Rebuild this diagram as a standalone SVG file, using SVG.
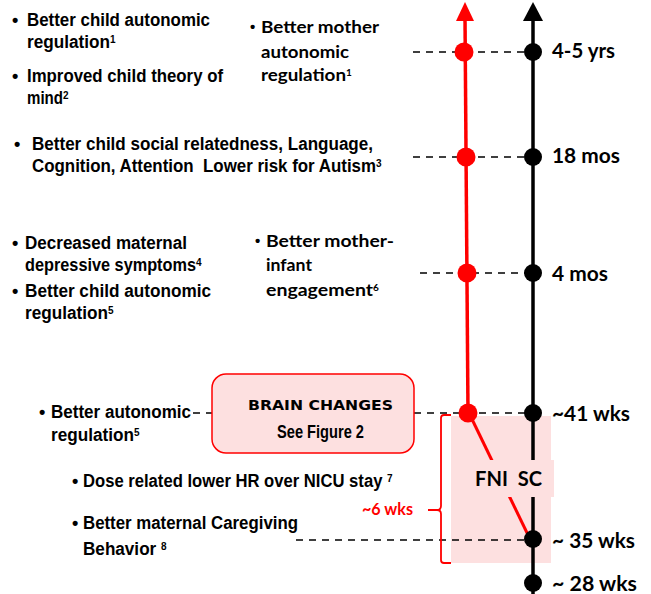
<svg xmlns="http://www.w3.org/2000/svg" width="651" height="594" viewBox="0 0 651 594">
<style>
.lt{font-family:"Liberation Sans Narrow","Liberation Sans",Arial,sans-serif;font-weight:bold;font-size:18px;fill:#000;white-space:pre}
.ct{font-family:Lato,"Open Sans",sans-serif;font-weight:bold;font-size:17px;fill:#000}
.bul{font-family:"Liberation Sans",Arial,sans-serif;font-weight:bold;font-size:15px;fill:#000}
.lab{font-family:Lato,"Open Sans",sans-serif;font-weight:bold;font-size:20px;fill:#000}
.sup{font-size:10px}
.dash{stroke:#000;stroke-width:1.5;stroke-dasharray:7 6;fill:none}
.pink{fill:#fde0e0}
.red{stroke:#ff0000;fill:none}
</style>
<rect class="pink" x="451" y="416" width="100" height="147"/>
<g id="connectors">
  <line class="dash" x1="413" y1="52" x2="533" y2="52"/>
  <line class="dash" x1="413" y1="157" x2="533" y2="157"/>
  <line class="dash" x1="420" y1="273" x2="533" y2="273"/>
  <line class="dash" x1="193" y1="413" x2="533" y2="413"/>
  <line class="dash" x1="296" y1="540" x2="533" y2="540"/>
  <line class="red" stroke-width="3.5" x1="465" y1="18" x2="468" y2="413"/>
  <polygon fill="#ff0000" points="465,2 456,21 474,21"/>
  <line stroke="#000" stroke-width="3.5" x1="533" y1="18" x2="533" y2="594"/>
  <polygon fill="#000" points="533,2 523,21 543,21"/>
  <line class="red" stroke-width="3" x1="469" y1="413" x2="530" y2="539"/>
  <path class="red" stroke-width="1.8" d="M451,415 L444,415 Q441,415 441,418 L441,506 Q441,510 437,510 L428,510 M437,510 Q441,510 441,514 L441,560 Q441,563 444,563 L451,563"/>
</g>
<g id="fni-sc">
  <rect class="pink" x="472" y="460" width="82" height="37"/>
  <text class="lab" x="475" y="486" font-size="19" textLength="67" lengthAdjust="spacingAndGlyphs" style="white-space:pre">FNI  SC</text>
</g>
<g id="dots">
  <circle cx="464" cy="52" r="9.5" fill="#ff0000"/>
  <circle cx="466" cy="157" r="9.5" fill="#ff0000"/>
  <circle cx="467" cy="273" r="9.5" fill="#ff0000"/>
  <circle cx="468" cy="413" r="9.5" fill="#ff0000"/>
  <circle cx="533" cy="52" r="9" fill="#000"/>
  <circle cx="533" cy="157" r="9" fill="#000"/>
  <circle cx="533" cy="273" r="9" fill="#000"/>
  <circle cx="533" cy="413" r="9" fill="#000"/>
  <circle cx="533" cy="539" r="9" fill="#000"/>
  <circle cx="533" cy="583" r="9" fill="#000"/>
</g>
<g id="time-labels">
  <text class="lab" x="552" y="58" textLength="63" lengthAdjust="spacingAndGlyphs">4-5 yrs</text>
  <text class="lab" x="552" y="163" textLength="68" lengthAdjust="spacingAndGlyphs">18 mos</text>
  <text class="lab" x="552" y="281" textLength="56" lengthAdjust="spacingAndGlyphs">4 mos</text>
  <text class="lab" x="552" y="421" textLength="78" lengthAdjust="spacingAndGlyphs">~41 wks</text>
  <text class="lab" x="552" y="548" textLength="83" lengthAdjust="spacingAndGlyphs">~ 35 wks</text>
  <text class="lab" x="552" y="591" textLength="85" lengthAdjust="spacingAndGlyphs">~ 28 wks</text>
</g>
<g id="child-45yrs">
  <text class="lt" x="12" y="26">•</text>
  <text class="lt" x="27" y="26" textLength="183" lengthAdjust="spacingAndGlyphs">Better child autonomic</text>
  <text class="lt" x="27" y="48"><tspan textLength="83" lengthAdjust="spacingAndGlyphs">regulation</tspan><tspan class="sup" dy="-5">1</tspan></text>
  <text class="lt" x="12" y="82">•</text>
  <text class="lt" x="27" y="82" textLength="196" lengthAdjust="spacingAndGlyphs">Improved child theory of</text>
  <text class="lt" x="27" y="104"><tspan textLength="36" lengthAdjust="spacingAndGlyphs">mind</tspan><tspan class="sup" dy="-5">2</tspan></text>
</g>
<g id="mother-45yrs">
  <text class="bul" x="250" y="32">•</text>
  <text class="ct" x="261" y="33" textLength="118" lengthAdjust="spacingAndGlyphs">Better mother</text>
  <text class="ct" x="261" y="58" textLength="88" lengthAdjust="spacingAndGlyphs">autonomic</text>
  <text class="ct" x="261" y="81"><tspan textLength="85" lengthAdjust="spacingAndGlyphs">regulation</tspan><tspan class="sup" dy="-5">1</tspan></text>
</g>
<g id="child-18mos">
  <text class="lt" x="14" y="150">•</text>
  <text class="lt" x="32" y="150" textLength="341" lengthAdjust="spacingAndGlyphs">Better child social relatedness, Language,</text>
  <text class="lt" x="32" y="172"><tspan textLength="344" lengthAdjust="spacingAndGlyphs">Cognition, Attention  Lower risk for Autism</tspan><tspan class="sup" dy="-5">3</tspan></text>
</g>
<g id="child-4mos">
  <text class="lt" x="12" y="249">•</text>
  <text class="lt" x="25" y="249" textLength="162" lengthAdjust="spacingAndGlyphs">Decreased maternal</text>
  <text class="lt" x="25" y="271"><tspan textLength="171" lengthAdjust="spacingAndGlyphs">depressive symptoms</tspan><tspan class="sup" dy="-5">4</tspan></text>
  <text class="lt" x="12" y="297">•</text>
  <text class="lt" x="25" y="297" textLength="186" lengthAdjust="spacingAndGlyphs">Better child autonomic</text>
  <text class="lt" x="25" y="319"><tspan textLength="83" lengthAdjust="spacingAndGlyphs">regulation</tspan><tspan class="sup" dy="-5">5</tspan></text>
</g>
<g id="mother-4mos">
  <text class="bul" x="255" y="246">•</text>
  <text class="ct" x="266" y="247" textLength="128" lengthAdjust="spacingAndGlyphs">Better mother-</text>
  <text class="ct" x="266" y="271" textLength="46" lengthAdjust="spacingAndGlyphs">infant</text>
  <text class="ct" x="266" y="296"><tspan textLength="107" lengthAdjust="spacingAndGlyphs">engagement</tspan><tspan class="sup" dy="-5">6</tspan></text>
</g>
<g id="child-41wks">
  <text class="lt" x="39" y="418">•</text>
  <text class="lt" x="51" y="418" textLength="140" lengthAdjust="spacingAndGlyphs">Better autonomic</text>
  <text class="lt" x="51" y="441"><tspan textLength="83" lengthAdjust="spacingAndGlyphs">regulation</tspan><tspan class="sup" dy="-5">5</tspan></text>
</g>
<g id="brain-changes">
  <rect x="212" y="374" width="202" height="79" rx="14" fill="#fde0e0" stroke="#ff0000" stroke-width="1.5"/>
  <text x="248" y="410" font-family="'DejaVu Sans','Liberation Sans',sans-serif" font-weight="bold" font-size="14" textLength="145" lengthAdjust="spacingAndGlyphs">BRAIN CHANGES</text>
  <text class="lt" x="277" y="438" textLength="87" lengthAdjust="spacingAndGlyphs">See Figure 2</text>
</g>
<g id="nicu">
  <text class="lt" x="72" y="487">•</text>
  <text class="lt" x="83" y="487"><tspan textLength="304" lengthAdjust="spacingAndGlyphs">Dose related lower HR over NICU stay </tspan><tspan class="sup" dy="-5">7</tspan></text>
  <text class="lt" x="72" y="529">•</text>
  <text class="lt" x="83" y="529" textLength="215" lengthAdjust="spacingAndGlyphs">Better maternal Caregiving</text>
  <text class="lt" x="83" y="555"><tspan textLength="78" lengthAdjust="spacingAndGlyphs">Behavior </tspan><tspan class="sup" dy="-5">8</tspan></text>
</g>
<g id="duration">
  <text x="362" y="515" font-family="Lato,'Open Sans',sans-serif" font-weight="bold" font-size="17" fill="#ff0000" textLength="51" lengthAdjust="spacingAndGlyphs">~6 wks</text>
</g>
</svg>
